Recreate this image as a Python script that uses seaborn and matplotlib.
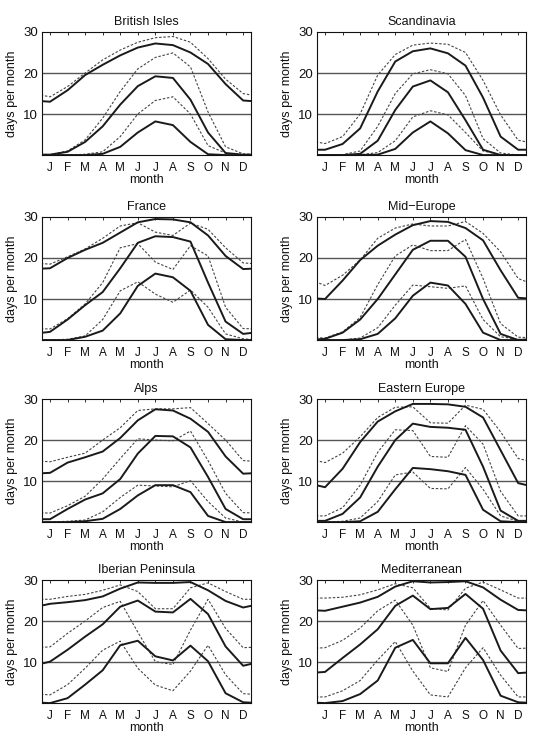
import numpy as np
import pandas as pd
import matplotlib
matplotlib.use("Agg")
import matplotlib.pyplot as plt
import seaborn as sns

sns.set_theme(style="white")
plt.rcParams['font.family'] = ['Liberation Sans', 'DejaVu Sans']

month_labels = ["J", "F", "M", "A", "M", "J", "J", "A", "S", "O", "N", "D"]
regions = ["British Isles", "Scandinavia", "France", "Mid\u2212Europe",
           "Alps", "Eastern Europe", "Iberian Peninsula", "Mediterranean"]

# solid = observed, dashed = scenario; top / mid / low threshold curves
british_solid_top = [13.0, 15.8, 19.5, 22.0, 24.3, 26.2, 27.2, 26.8, 25.0, 22.2, 17.3, 13.3]
british_dash_top = [14.2, 16.7, 20.0, 23.2, 25.6, 27.5, 28.6, 28.9, 27.5, 23.5, 18.5, 15.0]
british_solid_mid = [0.1, 0.8, 3.2, 7.0, 12.3, 16.8, 19.2, 18.8, 13.5, 5.5, 0.5, 0.1]
british_dash_mid = [0.1, 1.0, 3.7, 9.0, 15.5, 21.0, 23.8, 24.9, 21.5, 10.5, 2.0, 0.3]
british_solid_low = [0.0, 0.0, 0.0, 0.3, 2.0, 5.5, 8.2, 7.3, 3.2, 0.2, 0.0, 0.0]
british_dash_low = [0.0, 0.0, 0.2, 0.8, 4.5, 10.0, 13.3, 14.2, 10.0, 2.3, 0.5, 0.0]

scand_solid_top = [1.3, 2.7, 6.5, 15.5, 22.8, 25.3, 26.0, 24.8, 21.8, 14.0, 4.5, 1.3]
scand_dash_top = [2.8, 4.5, 10.0, 19.5, 24.5, 26.8, 27.3, 27.0, 25.0, 18.2, 9.8, 3.6]
scand_solid_mid = [0.0, 0.0, 0.3, 3.5, 11.0, 16.7, 18.2, 15.3, 8.5, 1.3, 0.0, 0.0]
scand_dash_mid = [0.0, 0.1, 1.0, 7.0, 15.0, 19.8, 20.8, 19.8, 14.5, 4.0, 0.5, 0.0]
scand_solid_low = [0.0, 0.0, 0.0, 0.1, 1.5, 5.5, 8.2, 5.3, 1.2, 0.0, 0.0, 0.0]
scand_dash_low = [0.0, 0.0, 0.1, 0.6, 3.5, 9.3, 10.8, 9.8, 5.5, 1.0, 0.1, 0.0]

france_solid_top = [17.5, 20.0, 22.0, 23.7, 26.2, 28.7, 29.5, 29.4, 28.7, 25.5, 20.5, 17.3]
france_dash_top = [18.5, 20.3, 22.2, 24.8, 27.8, 28.6, 26.3, 25.5, 28.5, 27.0, 22.5, 18.8]
france_solid_mid = [2.0, 5.0, 8.5, 11.7, 17.5, 23.7, 25.3, 25.1, 24.0, 14.0, 4.5, 1.5]
france_dash_mid = [2.7, 5.2, 8.8, 14.0, 22.5, 23.5, 19.0, 17.2, 23.0, 20.5, 8.0, 2.8]
france_solid_low = [0.0, 0.0, 0.8, 2.3, 6.5, 13.2, 16.2, 15.3, 12.0, 3.7, 0.2, 0.0]
france_dash_low = [0.0, 0.2, 1.0, 5.0, 12.0, 14.2, 11.2, 9.2, 12.2, 8.0, 1.5, 0.3]

mideu_solid_top = [10.0, 14.5, 19.5, 23.0, 25.7, 28.0, 29.0, 28.8, 27.3, 24.3, 17.0, 10.3]
mideu_dash_top = [13.3, 15.8, 19.5, 24.8, 27.3, 28.3, 27.8, 27.8, 28.9, 26.0, 21.5, 15.0]
mideu_solid_mid = [0.3, 1.8, 5.0, 10.0, 16.0, 22.0, 24.2, 24.2, 20.3, 10.0, 1.5, 0.0]
mideu_dash_mid = [0.5, 2.0, 5.5, 13.5, 20.5, 23.2, 21.8, 21.8, 24.5, 15.0, 4.0, 0.7]
mideu_solid_low = [0.0, 0.0, 0.2, 1.5, 5.3, 10.8, 14.0, 13.3, 8.8, 1.8, 0.0, 0.0]
mideu_dash_low = [0.0, 0.0, 0.5, 3.0, 8.5, 13.4, 13.0, 12.6, 13.2, 5.0, 0.8, 0.2]

alps_solid_top = [12.0, 14.5, 15.8, 17.2, 20.5, 24.8, 27.5, 27.2, 25.2, 22.0, 16.0, 11.8]
alps_dash_top = [14.7, 15.8, 16.8, 20.0, 23.0, 27.2, 27.6, 27.6, 27.9, 24.0, 20.0, 15.0]
alps_solid_mid = [0.7, 3.2, 5.5, 7.0, 10.5, 16.7, 21.0, 20.9, 18.2, 11.0, 3.2, 0.7]
alps_dash_mid = [2.2, 4.0, 6.3, 10.5, 15.5, 20.3, 20.0, 19.8, 22.2, 15.0, 7.0, 2.3]
alps_solid_low = [0.0, 0.0, 0.2, 0.8, 3.2, 6.5, 9.0, 9.0, 7.3, 1.5, 0.0, 0.0]
alps_dash_low = [0.0, 0.2, 0.5, 2.5, 6.0, 9.0, 8.8, 8.6, 10.1, 5.0, 1.0, 0.0]

easteu_solid_top = [8.5, 13.0, 19.5, 24.5, 27.0, 28.8, 28.8, 28.7, 28.1, 25.5, 17.5, 9.5]
easteu_dash_top = [14.5, 16.8, 20.8, 25.5, 28.0, 28.1, 24.2, 24.1, 28.5, 27.5, 22.0, 15.5]
easteu_solid_mid = [0.3, 2.0, 6.0, 13.5, 20.0, 24.0, 23.2, 23.0, 22.5, 13.5, 2.8, 0.3]
easteu_dash_mid = [1.5, 3.5, 9.0, 17.0, 22.5, 22.3, 16.0, 15.8, 23.5, 19.0, 7.5, 1.5]
easteu_solid_low = [0.0, 0.0, 0.2, 2.5, 8.0, 13.2, 12.9, 12.4, 11.5, 3.0, 0.2, 0.0]
easteu_dash_low = [0.0, 0.2, 1.0, 5.0, 11.5, 12.2, 8.2, 8.1, 13.3, 8.0, 1.5, 0.2]

iberia_solid_top = [24.2, 24.6, 25.1, 26.0, 27.9, 29.4, 29.3, 29.3, 29.5, 27.5, 24.9, 23.3]
iberia_dash_top = [25.3, 26.0, 26.5, 27.5, 28.8, 27.2, 23.0, 23.0, 28.1, 29.3, 27.2, 25.3]
iberia_solid_mid = [10.1, 13.0, 16.2, 19.2, 23.5, 25.0, 22.3, 22.1, 25.4, 21.7, 13.8, 9.1]
iberia_dash_mid = [13.7, 17.0, 20.0, 23.3, 24.8, 17.3, 10.1, 9.4, 17.8, 25.3, 18.2, 13.5]
iberia_solid_low = [0.0, 1.2, 4.5, 8.0, 14.1, 15.2, 11.4, 10.4, 14.0, 10.2, 2.4, 0.2]
iberia_dash_low = [2.0, 4.5, 8.5, 12.9, 15.1, 8.5, 4.4, 3.0, 7.8, 14.1, 6.9, 2.3]

med_solid_top = [22.5, 23.5, 24.5, 25.9, 28.4, 29.7, 29.4, 29.5, 29.7, 28.2, 25.2, 22.7]
med_dash_top = [25.6, 25.8, 26.4, 27.6, 29.1, 28.1, 23.1, 22.7, 28.0, 29.5, 27.6, 25.6]
med_solid_mid = [7.6, 11.0, 14.3, 18.0, 23.7, 26.2, 22.9, 23.2, 26.6, 23.0, 12.8, 7.3]
med_dash_mid = [13.5, 15.3, 18.3, 22.5, 25.1, 19.0, 8.6, 7.7, 19.0, 25.0, 19.0, 13.3]
med_solid_low = [0.0, 0.5, 2.2, 5.5, 13.5, 15.4, 9.7, 9.7, 15.9, 10.5, 1.8, 0.2]
med_dash_low = [1.5, 3.0, 5.5, 10.5, 15.0, 7.8, 2.0, 1.5, 8.6, 13.5, 6.8, 1.5]

panel_data = [
    (british_solid_top, british_solid_mid, british_solid_low,
     british_dash_top, british_dash_mid, british_dash_low),
    (scand_solid_top, scand_solid_mid, scand_solid_low,
     scand_dash_top, scand_dash_mid, scand_dash_low),
    (france_solid_top, france_solid_mid, france_solid_low,
     france_dash_top, france_dash_mid, france_dash_low),
    (mideu_solid_top, mideu_solid_mid, mideu_solid_low,
     mideu_dash_top, mideu_dash_mid, mideu_dash_low),
    (alps_solid_top, alps_solid_mid, alps_solid_low,
     alps_dash_top, alps_dash_mid, alps_dash_low),
    (easteu_solid_top, easteu_solid_mid, easteu_solid_low,
     easteu_dash_top, easteu_dash_mid, easteu_dash_low),
    (iberia_solid_top, iberia_solid_mid, iberia_solid_low,
     iberia_dash_top, iberia_dash_mid, iberia_dash_low),
    (med_solid_top, med_solid_mid, med_solid_low,
     med_dash_top, med_dash_mid, med_dash_low),
]

fig = plt.figure(figsize=(5.33, 7.37), dpi=100)
lefts = [0.079, 0.595]
width = 0.392
tops = [0.9566, 0.7056, 0.4586, 0.2130]
height = 0.167

x_wrap = np.arange(0, 14)

def wrap(v):
    return [v[-1]] + list(v) + [v[0]]

for i, (name, series) in enumerate(zip(regions, panel_data)):
    r, c = divmod(i, 2)
    ax = fig.add_axes([lefts[c], tops[r] - height, width, height])
    ax.axhline(10, color="#555555", lw=1.0, zorder=1)
    ax.axhline(20, color="#555555", lw=1.0, zorder=1)
    for k, vals in enumerate(series):
        dashed = k >= 3
        sns.lineplot(x=x_wrap, y=wrap(vals), ax=ax,
                     color="#444444" if dashed else "#1a1a1a",
                     lw=0.8 if dashed else 1.4,
                     linestyle=(0, (2.2, 1.6)) if dashed else "-",
                     zorder=3 if not dashed else 2)
    ax.set_xlim(0.55, 12.45)
    ax.set_ylim(0, 30)
    ax.set_xticks(range(1, 13))
    ax.set_xticklabels(month_labels, fontsize=8.5)
    ax.set_yticks([10, 20, 30])
    ax.set_yticklabels(["10", "20", "30"], fontsize=9.5)
    ax.tick_params(direction="in", length=2.5, width=0.6, top=True, right=True,
                   pad=3, colors="#111111")
    ax.tick_params(axis="x", pad=5)
    for s in ax.spines.values():
        s.set_color("#111111")
        s.set_linewidth(0.8)
    ax.set_title(name, fontsize=9, pad=5, color="#111111")
    ax.set_xlabel("month", fontsize=9, labelpad=0, color="#111111")
    ax.set_ylabel("days per month", fontsize=9, labelpad=4, color="#111111")
    ax.grid(False)

fig.savefig("out.png", dpi=100, facecolor="white")
